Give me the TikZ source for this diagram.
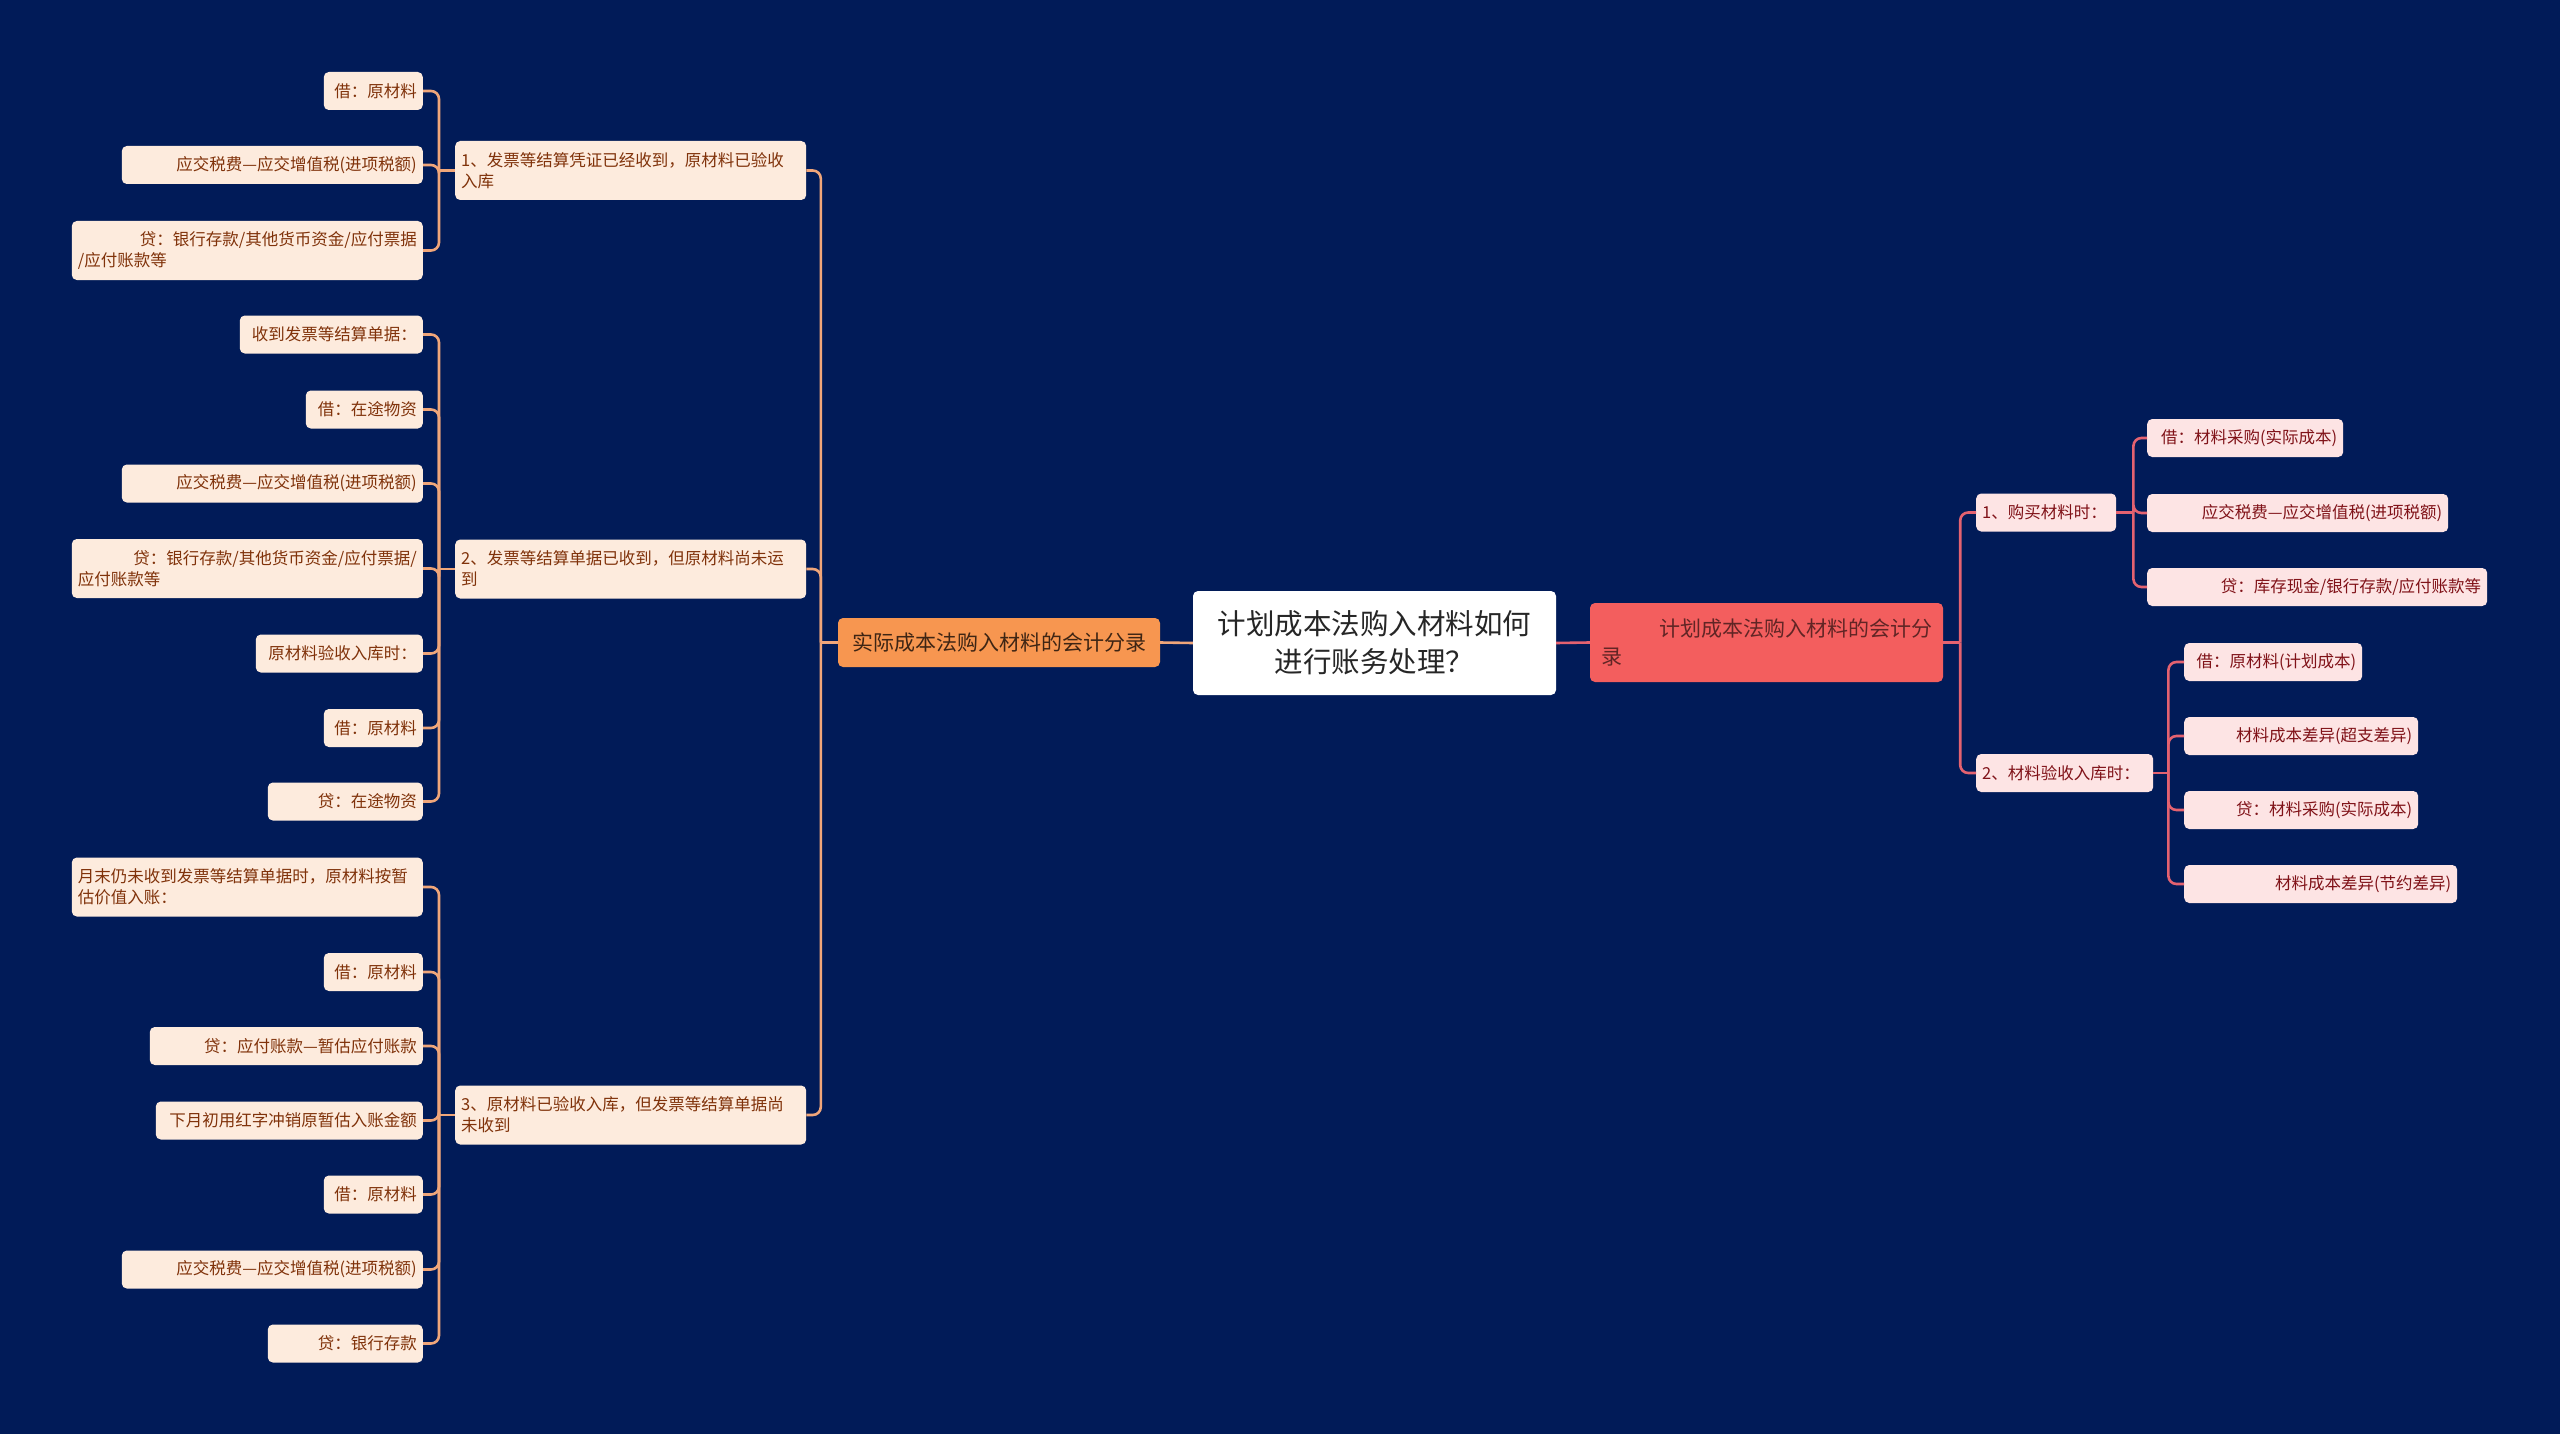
\documentclass[tikz,border=0pt]{standalone}
\usepackage{fontspec}
\setmainfont{Noto Sans CJK SC}
\usepackage{tikz}
\usetikzlibrary{calc}
\definecolor{cBg}{RGB}{1,27,88}
\definecolor{cLineL}{RGB}{240,166,122}
\definecolor{cFillL}{RGB}{253,235,221}
\definecolor{cTextL}{RGB}{128,50,10}
\definecolor{cMainL}{RGB}{247,150,80}
\definecolor{cLineR}{RGB}{228,98,112}
\definecolor{cFillR}{RGB}{253,228,228}
\definecolor{cTextR}{RGB}{128,18,24}
\definecolor{cMainR}{RGB}{243,94,94}

\begin{document}
\begin{tikzpicture}[x=1pt, y=-1pt,
    linkL/.style={draw=cLineL, line width=2.6pt, rounded corners=8pt},
    linkR/.style={draw=cLineR, line width=2.6pt, rounded corners=8pt},
    leafL/.style={fill=cFillL, text=cTextL, rounded corners=5pt, inner xsep=6pt, inner ysep=2pt,
        minimum height=38pt, font=\fontsize{16.5}{21}\selectfont, align=right, anchor=east},
    twoL/.style={leafL, align=left, text width=339pt, minimum height=59pt},
    subL/.style={twoL, anchor=west},
    leafR/.style={fill=cFillR, text=cTextR, rounded corners=5pt, inner xsep=6pt, inner ysep=2pt,
        minimum height=38pt, font=\fontsize{16.5}{21}\selectfont, align=right, anchor=west},
    subR/.style={leafR, align=left}]
    % Background
    \fill[cBg] (0,0) rectangle (2560,1434);

    % Centre and main branches
    \node[fill=white, text=black!85, rounded corners=5pt, minimum width=363pt, minimum height=104pt,
        align=center, font=\fontsize{28.5}{38}\selectfont] (root) at (1374.5,643) {计划成本法购入材料如何\\进行账务处理？};
    \node[fill=cMainL, text=black!75!cMainL, rounded corners=5pt, minimum width=322pt, minimum height=49pt,
        font=\fontsize{21}{28}\selectfont] (mainL) at (999,642.5) {实际成本法购入材料的会计分录};
    \node[fill=cMainR, text=black!60!cMainR, rounded corners=5pt, text width=331pt, inner xsep=11pt,
        minimum height=79pt, align=left, font=\fontsize{21}{28}\selectfont] (mainR) at (1766.5,642.5)
        {\hspace*{\fill}计划成本法购入材料的会计分\\录};

    % Left: actual cost
    \node[subL] (p1) at (455,170.5) {1、发票等结算凭证已经收到，原材料已验收\\入库};
    \node[subL] (p2) at (455,569) {2、发票等结算单据已收到，但原材料尚未运\\到};
    \node[subL] (p3) at (455,1115) {3、原材料已验收入库，但发票等结算单据尚\\未收到};

    \node[leafL, text width=87pt] (a1) at (423,91) {借：原材料};
    \node[leafL, text width=289pt] (a2) at (423,165) {应交税费—应交增值税(进项税额)};
    \node[twoL] (a3) at (423,250.5) {\hspace*{\fill}贷：银行存款/其他货币资金/应付票据\\/应付账款等};

    \node[leafL, text width=171pt] (b1) at (423,334.5) {收到发票等结算单据：};
    \node[leafL, text width=105pt] (b2) at (423,409.5) {借：在途物资};
    \node[leafL, text width=289pt] (b3) at (423,483.5) {应交税费—应交增值税(进项税额)};
    \node[twoL] (b4) at (423,568.5) {\hspace*{\fill}贷：银行存款/其他货币资金/应付票据/\\应付账款等};
    \node[leafL, text width=155pt] (b5) at (423,653.5) {原材料验收入库时：};
    \node[leafL, text width=87pt] (b6) at (423,728) {借：原材料};
    \node[leafL, text width=143pt] (b7) at (423,801.5) {贷：在途物资};

    \node[twoL] (c1) at (423,887) {月末仍未收到发票等结算单据时，原材料按暂\\估价值入账：};
    \node[leafL, text width=87pt] (c2) at (423,972) {借：原材料};
    \node[leafL, text width=261pt] (c3) at (423,1046) {贷：应付账款—暂估应付账款};
    \node[leafL, text width=255pt] (c4) at (423,1120.5) {下月初用红字冲销原暂估入账金额};
    \node[leafL, text width=87pt] (c5) at (423,1194.5) {借：原材料};
    \node[leafL, text width=289pt] (c6) at (423,1269.5) {应交税费—应交增值税(进项税额)};
    \node[leafL, text width=143pt] (c7) at (423,1343.5) {贷：银行存款};

    % Right: planned cost
    \node[subR, text width=128pt] (r1) at (1976,512.5) {1、购买材料时：};
    \node[subR, text width=165pt] (r2) at (1976,773) {2、材料验收入库时：};

    \node[leafR, text width=184pt] (r11) at (2147,438) {借：材料采购(实际成本)};
    \node[leafR, text width=289pt] (r12) at (2147,513) {应交税费—应交增值税(进项税额)};
    \node[leafR, text width=328pt] (r13) at (2147,587) {贷：库存现金/银行存款/应付账款等};

    \node[leafR, text width=166pt] (r21) at (2184,662) {借：原材料(计划成本)};
    \node[leafR, text width=222pt] (r22) at (2184,736) {材料成本差异(超支差异)};
    \node[leafR, text width=222pt] (r23) at (2184,810) {贷：材料采购(实际成本)};
    \node[leafR, text width=261pt] (r24) at (2184,884) {材料成本差异(节约差异)};

    % Connectors
    \draw[linkL] (root.west) -- (mainL.east);
    \draw[linkR] (root.east) -- (mainR.west);

    \draw[linkL] (mainL.west) -- ++(-17,0);
    \foreach \n in {p1,p2,p3}
        \draw[linkL] ([xshift=-17pt]mainL.west) |- (\n.east);

    \draw[linkL] (p1.west) -- ++(-16,0);
    \foreach \n in {a1,a2,a3}
        \draw[linkL] ([xshift=-16pt]p1.west) |- (\n.east);
    \draw[linkL] (p2.west) -- ++(-16,0);
    \foreach \n in {b1,b2,b3,b4,b5,b6,b7}
        \draw[linkL] ([xshift=-16pt]p2.west) |- (\n.east);
    \draw[linkL] (p3.west) -- ++(-16,0);
    \foreach \n in {c1,c2,c3,c4,c5,c6,c7}
        \draw[linkL] ([xshift=-16pt]p3.west) |- (\n.east);

    \draw[linkR] (mainR.east) -- ++(17,0);
    \foreach \n in {r1,r2}
        \draw[linkR] ([xshift=17pt]mainR.east) |- (\n.west);
    \draw[linkR] (r1.east) -- ++(17,0);
    \foreach \n in {r11,r12,r13}
        \draw[linkR] ([xshift=17pt]r1.east) |- (\n.west);
    \draw[linkR] (r2.east) -- ++(15,0);
    \foreach \n in {r21,r22,r23,r24}
        \draw[linkR] ([xshift=15pt]r2.east) |- (\n.west);
\end{tikzpicture}
\end{document}
